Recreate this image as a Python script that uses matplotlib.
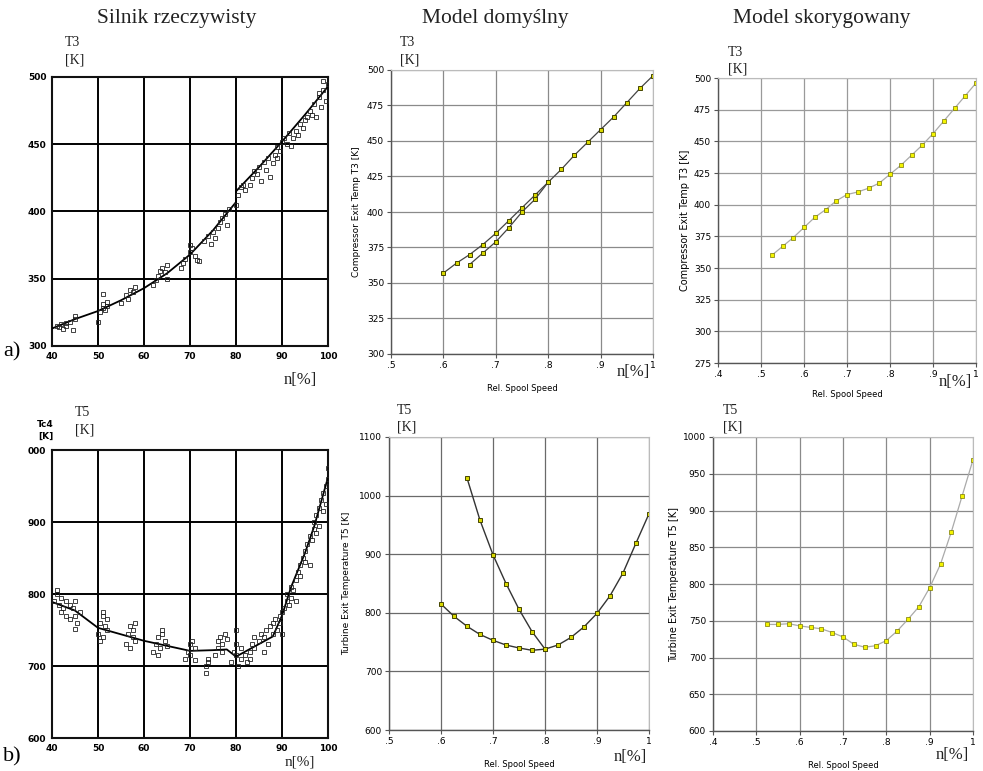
import matplotlib
matplotlib.use("Agg")
import matplotlib.pyplot as plt

# ---------------- data ----------------
# a) real engine, T3 vs n[%]
a1_line_x = [40, 45, 50, 55, 60, 65, 70, 75, 80, 80, 85, 90, 95, 100]
a1_line_y = [313, 320, 326, 334, 343, 354, 368, 386, 407, 415, 433, 452, 472, 493]
a1_scatter = [
    (41, 315), (41.5, 314), (42, 316), (42.5, 313), (43, 315), (43, 317), (44, 318), (44.5, 312), (45, 320), (45, 322),
    (50, 318), (50.5, 325), (51, 328), (51, 331), (51.5, 327), (52, 333), (52, 330), (51, 339),
    (55, 332), (56, 338), (56.5, 335), (57, 342), (57.5, 340), (58, 344),
    (62, 345), (62.5, 349), (63, 352), (63.5, 356), (64, 358), (64.5, 355), (65, 350), (65, 360),
    (68, 358), (68.5, 362), (69, 365), (70, 370), (70, 375), (70.5, 373), (71, 367), (71.5, 364), (72, 363),
    (73, 378), (74, 382), (74.5, 376), (75, 385), (75.5, 380), (76, 388), (76.5, 392), (77, 395), (77.5, 398), (78, 390), (78.5, 402),
    (80, 405), (80.5, 412), (81, 418), (81.5, 420), (82, 416),
    (83, 420), (83.5, 425), (84, 430), (84.5, 428), (85, 433), (85.5, 423), (86, 437), (86.5, 431), (87, 440), (87.5, 426), (88, 436),
    (88.5, 442), (89, 448), (89, 440), (89.5, 445), (90, 452), (90.5, 455), (91, 450), (91.5, 458), (92, 449),
    (92.5, 455), (93, 460), (93.5, 457), (94, 465), (94.5, 462), (95, 468), (95.5, 470), (96, 475),
    (96.5, 472), (97, 480), (97.5, 470), (98, 485), (98.5, 478), (99, 490), (99.5, 482), (100, 495), (99, 497), (98, 488),
]

# a) default model
a2_x_upper = [0.6, 0.625, 0.65, 0.675, 0.7, 0.725, 0.75, 0.775, 0.8, 0.825, 0.85, 0.875, 0.9, 0.925, 0.95, 0.975, 1.0]
a2_y_upper = [357, 364, 370, 377, 385, 394, 403, 412, 421, 430, 440, 449, 458, 467, 477, 487, 496]
a2_x_lower = [0.65, 0.675, 0.7, 0.725, 0.75, 0.775, 0.8]
a2_y_lower = [363, 371, 379, 389, 400, 409, 421]

# a) corrected model
a3_x = [0.525, 0.55, 0.575, 0.6, 0.625, 0.65, 0.675, 0.7, 0.725, 0.75, 0.775, 0.8, 0.825, 0.85, 0.875, 0.9, 0.925, 0.95, 0.975, 1.0]
a3_y = [360, 367, 374, 382, 390, 396, 403, 408, 410, 413, 417, 424, 431, 439, 447, 456, 466, 476, 486, 496]

# b) real engine, T5 vs n[%]
b1_line_x = [40, 45, 50, 60, 70, 75, 78, 80, 84, 88, 90, 92, 95, 97, 100]
b1_line_y = [789, 777, 753, 735, 721, 722, 723, 713, 727, 741, 770, 810, 857, 894, 962]
b1_scatter = [
    (40.5, 790), (41, 800), (41.5, 785), (42, 795), (42, 775), (42.5, 780), (43, 790), (43, 770), (41, 805),
    (44, 765), (44.5, 780), (45, 790), (45, 770), (45.5, 760), (45, 752), (46, 775), (44, 785),
    (50, 745), (50.5, 760), (51, 770), (51, 740), (51.5, 755), (52, 750), (52, 765), (50.5, 735), (51, 775),
    (56, 730), (56.5, 745), (57, 755), (57, 725), (57.5, 740), (58, 735), (58, 760), (57.5, 750),
    (62, 720), (62.5, 730), (63, 715), (63, 740), (63.5, 725), (64, 745), (64.5, 735), (64, 750), (65, 728),
    (69, 710), (69.5, 720), (70, 730), (70, 715), (70.5, 735), (71, 725), (71, 708),
    (73.5, 700), (74, 710), (73.5, 690), (74, 705),
    (75.5, 715), (76, 725), (76, 735), (76.5, 740), (77, 720), (77.5, 745), (77, 730), (78, 738),
    (79, 705), (79.5, 720), (80, 715), (80, 730), (80, 750), (80.5, 700), (81, 725), (81, 710),
    (82, 715), (82.5, 705), (83, 720), (83, 710), (83.5, 730), (84, 725), (84, 740), (85, 735), (85.5, 745),
    (86, 720), (86, 740), (86.5, 750), (87, 730),
    (87.5, 755), (88, 760), (88, 745), (88.5, 765), (89, 750), (89.5, 770), (89.5, 760), (90, 775), (90, 745),
    (90.5, 780), (91, 790), (91, 800), (91.5, 785), (92, 795), (92, 810), (92.5, 805), (93, 820), (93, 790),
    (93.5, 830), (94, 840), (94, 825), (94.5, 850), (95, 860), (95, 845), (95.5, 870), (96, 840), (96, 880),
    (96.5, 875), (97, 890), (97, 900), (97.5, 910), (97.5, 885), (98, 920), (98, 895), (98.5, 930),
    (99, 940), (99, 915), (99.5, 950), (99.5, 925), (100, 960), (100, 975),
]

# b) default model
b2_x_lower = [0.6, 0.625, 0.65, 0.675, 0.7, 0.725, 0.75, 0.775, 0.8, 0.825, 0.85, 0.875, 0.9, 0.925, 0.95, 0.975, 1.0]
b2_y_lower = [815, 794, 777, 763, 753, 745, 740, 736, 738, 745, 758, 776, 799, 829, 868, 919, 969]
b2_x_upper = [0.65, 0.675, 0.7, 0.725, 0.75, 0.775, 0.8]
b2_y_upper = [1030, 958, 899, 850, 806, 768, 738]

# b) corrected model
b3_x = [0.525, 0.55, 0.575, 0.6, 0.625, 0.65, 0.675, 0.7, 0.725, 0.75, 0.775, 0.8, 0.825, 0.85, 0.875, 0.9, 0.925, 0.95, 0.975, 1.0]
b3_y = [745, 745, 746, 743, 741, 739, 734, 728, 718, 714, 716, 723, 736, 752, 769, 795, 827, 871, 920, 969]

# tick labels
real_x_ticks = [40, 50, 60, 70, 80, 90, 100]
a1_y_ticks = [300, 350, 400, 450, 500]
b1_y_ticks = [600, 700, 800, 900, 1000]
b1_y_labels = ["600", "700", "800", "900", "000"]
model_x_ticks_d = [0.5, 0.6, 0.7, 0.8, 0.9, 1.0]
model_x_ticks_c = [0.4, 0.5, 0.6, 0.7, 0.8, 0.9, 1.0]
a2_y_ticks = [300, 325, 350, 375, 400, 425, 450, 475, 500]
a3_y_ticks = [275, 300, 325, 350, 375, 400, 425, 450, 475, 500]
b2_y_ticks = [600, 700, 800, 900, 1000, 1100]
b3_y_ticks = [600, 650, 700, 750, 800, 850, 900, 950, 1000]

titles = ["Silnik rzeczywisty", "Model domyślny", "Model skorygowany"]

# ---------------- drawing ----------------
W, H = 983, 771
fig = plt.figure(figsize=(W / 100, H / 100), dpi=100)
fig.patch.set_facecolor("white")

SERIF = "Liberation Serif"
NARROW = ["Liberation Sans Narrow", "DejaVu Sans"]


def box(l, t, r, b):
    return [l / W, 1 - b / H, (r - l) / W, (b - t) / H]


def fx(x):
    return x / W


def fy(y):
    return 1 - y / H


def style_real(ax, xt, yt, ylabels=None):
    ax.set_xlim(40, 100)
    ax.set_xticks(xt)
    ax.set_yticks(yt)
    ax.set_yticklabels(ylabels if ylabels else [str(v) for v in yt])
    ax.grid(True, color="black", lw=1.4)
    ax.set_axisbelow(True)
    for s in ax.spines.values():
        s.set_linewidth(1.5)
        s.set_color("#111111")
    ax.tick_params(length=0, labelsize=6.5, pad=4)
    for lab in ax.get_xticklabels() + ax.get_yticklabels():
        lab.set_fontweight("bold")
        lab.set_family("DejaVu Sans")


def style_model(ax, xt, yt, xlim, ylim, gridcolor="#777777"):
    ax.set_xlim(*xlim)
    ax.set_ylim(*ylim)
    ax.set_xticks(xt)
    ax.set_xticklabels([("1" if v == 1.0 else ("%.1f" % v)[1:]) for v in xt])
    ax.set_yticks(yt)
    ax.set_yticklabels([str(v) for v in yt])
    ax.grid(True, color=gridcolor, lw=0.9)
    ax.set_axisbelow(True)
    for side in ["top", "right"]:
        ax.spines[side].set_color("#bbbbbb")
        ax.spines[side].set_linewidth(0.8)
    for side in ["left", "bottom"]:
        ax.spines[side].set_color("#555555")
        ax.spines[side].set_linewidth(1.0)
    ax.tick_params(length=3, width=0.8, labelsize=6.5, pad=2, color="#555555")
    for lab in ax.get_xticklabels() + ax.get_yticklabels():
        lab.set_family(NARROW)


mk_dark = dict(marker="s", markersize=3.0, markerfacecolor="#d8d800", markeredgecolor="#444400", markeredgewidth=0.7)
mk_light = dict(marker="s", markersize=3.0, markerfacecolor="#f4f400", markeredgecolor="#777700", markeredgewidth=0.5)

# --- a1 ---
ax = fig.add_axes(box(52, 77, 328, 346))
ax.plot(a1_line_x, a1_line_y, color="black", lw=1.3, zorder=3)
ax.plot([p[0] for p in a1_scatter], [p[1] for p in a1_scatter], ls="none", marker="s",
        markersize=3.5, markerfacecolor="none", markeredgecolor="#222222", markeredgewidth=0.6, zorder=3)
ax.set_ylim(300, 500)
style_real(ax, real_x_ticks, a1_y_ticks)

# --- b1 ---
ax = fig.add_axes(box(52, 450, 328, 738))
ax.plot(b1_line_x, b1_line_y, color="black", lw=1.3, zorder=3)
ax.plot([p[0] for p in b1_scatter], [p[1] for p in b1_scatter], ls="none", marker="s",
        markersize=3.5, markerfacecolor="none", markeredgecolor="#222222", markeredgewidth=0.6, zorder=3)
ax.set_ylim(600, 1000)
style_real(ax, real_x_ticks, b1_y_ticks, b1_y_labels)

# --- a2 ---
ax = fig.add_axes(box(391, 70, 653, 354))
style_model(ax, model_x_ticks_d, a2_y_ticks, (0.5, 1.0), (300, 500), gridcolor="#8a8a8a")
ax.plot(a2_x_upper, a2_y_upper, color="#444444", lw=0.9, **mk_dark)
ax.plot(a2_x_lower, a2_y_lower, color="#444444", lw=0.9, **mk_dark)
ax.set_ylabel("Compressor Exit Temp T3 [K]", fontsize=6.5, family="DejaVu Sans", labelpad=4)
ax.set_xlabel("Rel. Spool Speed", fontsize=6, family=NARROW, labelpad=10)

# --- a3 ---
ax = fig.add_axes(box(718, 78, 976, 363))
style_model(ax, model_x_ticks_c, a3_y_ticks, (0.4, 1.0), (275, 500), gridcolor="#9a9a9a")
ax.plot(a3_x, a3_y, color="#aaaaaa", lw=0.9, **mk_light)
ax.set_ylabel("Compressor Exit Temp T3 [K]", fontsize=7, family="DejaVu Sans", labelpad=3)
ax.set_xlabel("Rel. Spool Speed", fontsize=6, family=NARROW, labelpad=8)

# --- b2 ---
ax = fig.add_axes(box(389, 437, 649, 730))
style_model(ax, model_x_ticks_d, b2_y_ticks, (0.5, 1.0), (600, 1100), gridcolor="#6a6a6a")
ax.plot(b2_x_lower, b2_y_lower, color="#333333", lw=1.0, **mk_dark)
ax.plot(b2_x_upper, b2_y_upper, color="#333333", lw=1.0, **mk_dark)
ax.set_ylabel("Turbine Exit Temperature T5 [K]", fontsize=6.5, family="DejaVu Sans", labelpad=6)
ax.set_xlabel("Rel. Spool Speed", fontsize=6, family=NARROW, labelpad=10)

# --- b3 ---
ax = fig.add_axes(box(713, 437, 973, 731))
style_model(ax, model_x_ticks_c, b3_y_ticks, (0.4, 1.0), (600, 1000), gridcolor="#8a8a8a")
ax.plot(b3_x, b3_y, color="#aaaaaa", lw=0.9, **mk_light)
ax.set_ylabel("Turbine Exit Temperature T5 [K]", fontsize=7, family="DejaVu Sans", labelpad=3)
ax.set_xlabel("Rel. Spool Speed", fontsize=6, family=NARROW, labelpad=10)

# ---------------- texts ----------------
for cx, t in zip([177, 495, 822], titles):
    fig.text(fx(cx), fy(19), t, ha="center", va="center", family=SERIF, fontsize=15.5, color="#222222")

unit_pos = [(65, 43, "T3"), (400, 43, "T3"), (728, 52, "T3"),
            (75, 413, "T5"), (397, 410, "T5"), (723, 410, "T5")]
for x, y, t in unit_pos:
    fig.text(fx(x), fy(y), t, ha="left", va="center", family=SERIF, fontsize=10, color="#222222")
    fig.text(fx(x), fy(y + 17), "[K]", ha="left", va="center", family=SERIF, fontsize=10, color="#222222")

fig.text(fx(37), fy(424), "Tc4", ha="left", va="center", family="DejaVu Sans", fontweight="bold", fontsize=6.5)
fig.text(fx(38), fy(436), "[K]", ha="left", va="center", family="DejaVu Sans", fontweight="bold", fontsize=6.5)

for x, y, fs in [(300, 380, 12), (633, 372, 12), (955, 382, 12), (300, 762, 11), (630, 757, 12), (952, 755, 12)]:
    fig.text(fx(x), fy(y), "n[%]", ha="center", va="center", family=SERIF, fontsize=fs, color="#222222")

fig.text(fx(3), fy(352), "a)", ha="left", va="center", family=SERIF, fontsize=16)
fig.text(fx(3), fy(757), "b)", ha="left", va="center", family=SERIF, fontsize=16)

fig.savefig("out.png", dpi=100, facecolor="white")
